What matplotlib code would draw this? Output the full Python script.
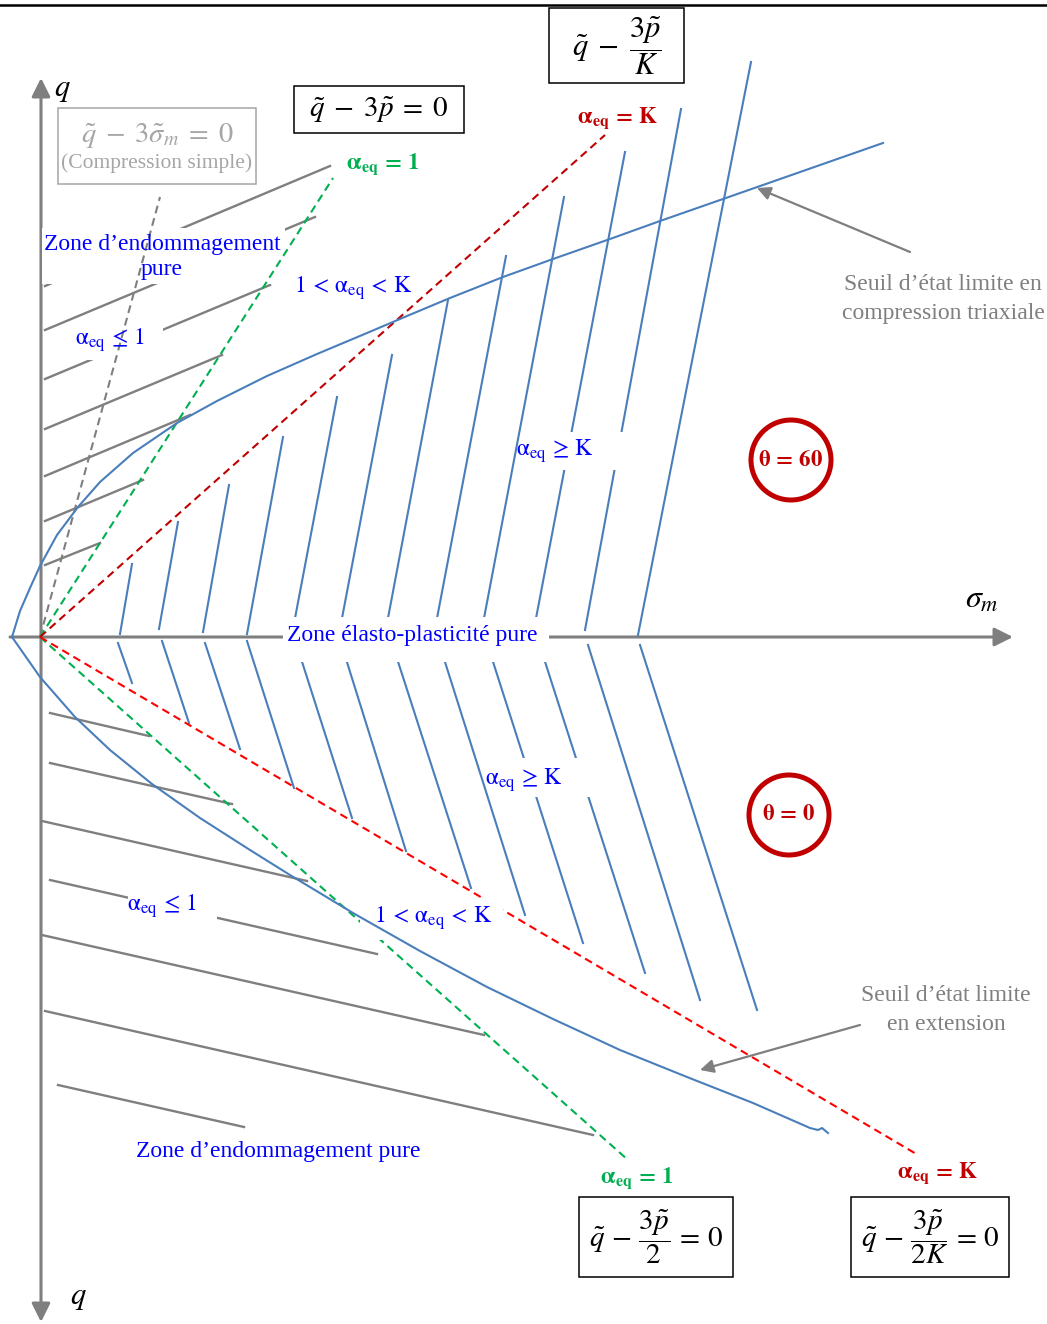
import matplotlib.pyplot as plt
from matplotlib.patches import Circle, Rectangle

plt.rcParams['font.family'] = ['Liberation Serif', 'DejaVu Serif']
plt.rcParams['mathtext.fontset'] = 'stix'

# diagram units: sigma_m to the right, q upward, origin where the two axes cross

# seuil d'etat limite en compression triaxiale (upper blue curve)
comp_s = [-28, -20, -10, 0, 17, 38, 60, 93, 137, 177, 227, 277, 327, 367, 410,
          463, 513, 570, 620, 683, 723, 843]
comp_q = [0, 26, 49, 71, 102, 130, 155, 184, 214, 236, 261, 283, 304, 321, 339,
          360, 378, 398, 416, 438, 452, 494]
# seuil d'etat limite en extension (lower blue curve)
ext_s = [-28, 0, 35, 70, 112, 160, 210, 250, 313, 380, 447, 513, 580, 647, 713,
         770, 778, 782, 788]
ext_q = [0, -40, -80, -113, -147, -181, -213, -238, -276, -314, -350, -382, -413, -440, -466,
         -491, -493, -491, -496]

# straight criteria through the origin: end points
crit_names = ['compression simple', 'aeq=1 haut', 'aeq=K haut', 'aeq=1 bas', 'aeq=K bas']
crit_s = [120, 293, 565, 588, 878]
crit_q = [440, 459, 502, -523, -518]

# damage zone hatching (grey), upper half
dmg_up_s0 = [5, 5, 5, 5, 5, 5, 5]
dmg_up_q0 = [351, 307, 258, 208, 161, 116, 72]
dmg_up_s1 = [290, 275, 230, 182, 150, 103, 60]
dmg_up_q1 = [471, 420, 352, 282, 222, 157, 94]
# damage zone hatching (grey), lower half
dmg_lo_s0 = [10, 10, 2, 10, 2, 5, 18]
dmg_lo_q0 = [-76, -126, -184, -243, -298, -374, -448]
dmg_lo_s1 = [109, 192, 267, 337, 444, 553, 204]
dmg_lo_q1 = [-99, -167, -244, -317, -398, -498, -490]

# elasto-plastic zone hatching (blue), upper half
ep_up_s0 = [80, 119, 163, 207, 252, 299, 345, 394, 441, 493, 545, 598]
ep_up_q0 = [3, 8, 5, 3, 3, 3, 3, 3, 3, 3, 7, 2]
ep_up_s1 = [92, 138, 189, 243, 297, 352, 408, 466, 524, 585, 641, 711]
ep_up_q1 = [73, 115, 152, 200, 240, 282, 337, 381, 440, 485, 528, 575]
# elasto-plastic zone hatching (blue), lower half
ep_lo_s0 = [78, 122, 165, 207, 256, 301, 352, 399, 447, 499, 548, 600]
ep_lo_q0 = [-6, -4, -6, -4, -6, -6, -6, -6, -6, -6, -8, -8]
ep_lo_s1 = [92, 149, 200, 254, 312, 366, 431, 485, 543, 605, 660, 717]
ep_lo_q1 = [-46, -86, -112, -151, -181, -214, -251, -278, -306, -336, -363, -373]

BLUE = '#4a7ebb'
GRAY = '#7f7f7f'
LABEL = '#0000ff'
GREEN = '#00b050'
DARKRED = '#c00000'
RED = '#ff0000'
LIGHT = '#a6a6a6'

fig = plt.figure(figsize=(10.47, 13.24), dpi=100)
ax = fig.add_axes([0, 0, 1, 1])
ax.set_xlim(-40, 1007)
ax.set_ylim(-687, 637)
ax.axis('off')

# top rule
ax.plot([-40, 1007], [632, 632], color='black', lw=1.8)

# axes
ax.annotate('', xy=(1, 559), xytext=(1, -685), zorder=1,
            arrowprops=dict(arrowstyle='<|-|>', color=GRAY, lw=2.2,
                            mutation_scale=28, shrinkA=0, shrinkB=0))
ax.annotate('', xy=(973, 0), xytext=(-30, 0), zorder=1,
            arrowprops=dict(arrowstyle='-|>', color=GRAY, lw=2.2,
                            mutation_scale=28, shrinkA=0, shrinkB=0))

# hatching
for i in range(len(dmg_up_s0)):
    ax.plot([dmg_up_s0[i], dmg_up_s1[i]], [dmg_up_q0[i], dmg_up_q1[i]], color=GRAY, lw=1.7, zorder=1)
for i in range(len(dmg_lo_s0)):
    ax.plot([dmg_lo_s0[i], dmg_lo_s1[i]], [dmg_lo_q0[i], dmg_lo_q1[i]], color=GRAY, lw=1.7, zorder=1)
for i in range(len(ep_up_s0)):
    ax.plot([ep_up_s0[i], ep_up_s1[i]], [ep_up_q0[i], ep_up_q1[i]], color=BLUE, lw=1.5, zorder=1)
for i in range(len(ep_lo_s0)):
    ax.plot([ep_lo_s0[i], ep_lo_s1[i]], [ep_lo_q0[i], ep_lo_q1[i]], color=BLUE, lw=1.5, zorder=1)

# white boxes behind the zone labels
label_boxes = [(243, -25, 266, 45), (2, 353, 243, 56), (32, 277, 91, 38), (255, 336, 117, 26),
               (482, 167, 106, 38), (450, -160, 110, 39), (320, -303, 143, 42), (88, -288, 89, 35)]
for (x0, y0, w, h) in label_boxes:
    ax.add_patch(Rectangle((x0, y0), w, h, facecolor='white', edgecolor='none', zorder=2))

# criteria lines
crit_colors = [GRAY, GREEN, DARKRED, GREEN, RED]
crit_z = [3, 3, 3, 1.5, 1.5]
for i in range(len(crit_s)):
    ax.plot([0, crit_s[i]], [0, crit_q[i]], color=crit_colors[i], lw=1.5,
            dashes=(3.8, 2.4), zorder=crit_z[i])

# limit curves
ax.plot(comp_s, comp_q, color=BLUE, lw=1.5, zorder=4, solid_joinstyle='round')
ax.plot(ext_s, ext_q, color=BLUE, lw=1.5, zorder=4, solid_joinstyle='round')

# zone labels
fs = 17
a_le_1 = r'$\mathrm{\alpha}_{\mathrm{eq}}\,\leq\,1$'
a_mid = r'$1\,<\,\mathrm{\alpha}_{\mathrm{eq}}\,<\,\mathrm{K}$'
a_ge_k = r'$\mathrm{\alpha}_{\mathrm{eq}}\,\geq\,\mathrm{K}$'
ax.text(372, 2, 'Zone élasto-plasticité pure', color=LABEL, fontsize=fs, ha='center', va='center', zorder=5)
ax.text(122, 380, 'Zone d’endommagement\npure', color=LABEL, fontsize=fs, ha='center', va='center',
        linespacing=1.3, zorder=5)
ax.text(238, -515, 'Zone d’endommagement pure', color=LABEL, fontsize=fs, ha='center', va='center', zorder=5)
ax.text(70, 297, a_le_1, color=LABEL, fontsize=fs, ha='center', va='center', zorder=5)
ax.text(122, -269, a_le_1, color=LABEL, fontsize=fs, ha='center', va='center', zorder=5)
ax.text(313, 349, a_mid, color=LABEL, fontsize=fs, ha='center', va='center', zorder=5)
ax.text(393, -281, a_mid, color=LABEL, fontsize=fs, ha='center', va='center', zorder=5)
ax.text(515, 186, a_ge_k, color=LABEL, fontsize=fs, ha='center', va='center', zorder=5)
ax.text(484, -143, a_ge_k, color=LABEL, fontsize=fs, ha='center', va='center', zorder=5)

# criteria labels
a_eq_1 = r'$\mathbf{\alpha_{eq}\,=\,1}$'
a_eq_k = r'$\mathbf{\alpha_{eq}\,=\,K}$'
ax.text(343, 473, a_eq_1, color=GREEN, fontsize=16.5, ha='center', va='center', zorder=5)
ax.text(597, -541, a_eq_1, color=GREEN, fontsize=16.5, ha='center', va='center', zorder=5)
ax.text(578, 519, a_eq_k, color=DARKRED, fontsize=16.5, ha='center', va='center', zorder=5)
ax.text(898, -536, a_eq_k, color=DARKRED, fontsize=16.5, ha='center', va='center', zorder=5)

# equation boxes
eq_boxes = [(254, 504, 170, 47), (509, 554, 135, 75), (539, -640, 154, 80), (811, -640, 158, 80)]
eq_texts = [r'$\tilde{q}\;-\;3\tilde{p}\;=\;0$', r'$\tilde{q}\;-\;\dfrac{3\tilde{p}}{K}$',
            r'$\tilde{q}\,-\,\dfrac{3\tilde{p}}{2}\,=\,0$', r'$\tilde{q}\,-\,\dfrac{3\tilde{p}}{2K}\,=\,0$']
eq_sizes = [21, 22, 21, 21]
for (x0, y0, w, h), t, s in zip(eq_boxes, eq_texts, eq_sizes):
    ax.add_patch(Rectangle((x0, y0), w, h, facecolor='white', edgecolor='black', lw=1.1, zorder=5))
    ax.text(x0 + w / 2, y0 + h / 2, t, fontsize=s, ha='center', va='center', zorder=6)

ax.add_patch(Rectangle((18, 453), 198, 76, facecolor='white', edgecolor=LIGHT, lw=1.1, zorder=5))
ax.text(117, 502, r'$\tilde{q}\;-\;3\tilde{\sigma}_m\;=\;0$', color=LIGHT, fontsize=20.5,
        ha='center', va='center', zorder=6)
ax.text(117, 474, '(Compression simple)', color=LIGHT, fontsize=15.5, ha='center', va='center', zorder=6)

# axis names
ax.text(22, 547, r'$q$', fontsize=22, ha='center', va='center')
ax.text(38, -661, r'$q$', fontsize=22, ha='center', va='center')
ax.text(942, 37, r'$\sigma_m$', fontsize=23, ha='center', va='center')

# limit-state notes
ax.text(903, 338, 'Seuil d’état limite en\ncompression triaxiale', color=GRAY, fontsize=17,
        ha='center', va='center', linespacing=1.45)
ax.annotate('', xy=(717, 449), xytext=(870, 385),
            arrowprops=dict(arrowstyle='-|>', color=GRAY, lw=1.6, mutation_scale=20, shrinkA=0, shrinkB=0))
ax.text(906, -373, 'Seuil d’état limite\nen extension', color=GRAY, fontsize=17,
        ha='center', va='center', linespacing=1.45)
ax.annotate('', xy=(660, -433), xytext=(820, -388),
            arrowprops=dict(arrowstyle='-|>', color=GRAY, lw=1.6, mutation_scale=20, shrinkA=0, shrinkB=0))

# Lode angle tags
for (cx, cy), t in zip([(751, 177), (749, -178)], [r'$\mathbf{\theta\,=\,60}$', r'$\mathbf{\theta\,=\,0}$']):
    ax.add_patch(Circle((cx, cy), 40, fill=False, edgecolor=DARKRED, lw=3.6, zorder=5))
    ax.text(cx, cy, t, color=DARKRED, fontsize=16.5, ha='center', va='center', zorder=6)

fig.savefig('out.png', dpi=100)
